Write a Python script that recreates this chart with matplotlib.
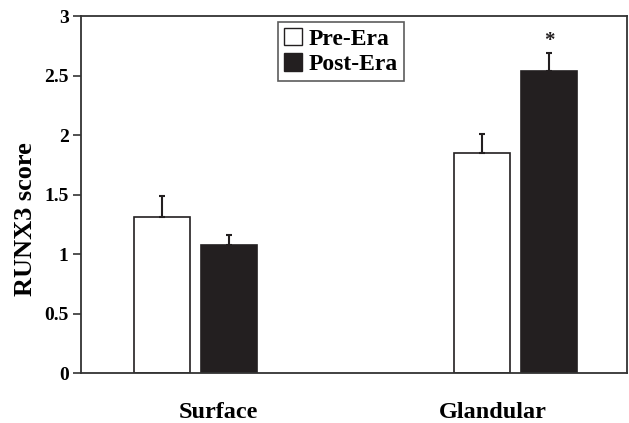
import numpy as np
import matplotlib
matplotlib.use("Agg")
import matplotlib.pyplot as plt
from matplotlib.patches import Patch

# data
groups = ["Surface", "Glandular"]
pre_era = [1.31, 1.85]
pre_err = [0.18, 0.16]
post_era = [1.08, 2.54]
post_err = [0.08, 0.15]
yticks = [0, 0.5, 1, 1.5, 2, 2.5, 3]
ytick_labels = ["0", "0.5", "1", "1.5", "2", "2.5", "3"]

plt.rcParams['font.family'] = ['Liberation Serif', 'DejaVu Serif']
plt.rcParams['font.weight'] = 'bold'

fig = plt.figure(figsize=(6.29, 4.23), dpi=100)
ax = fig.add_axes([0.1288, 0.118, 0.868, 0.844])

x = np.arange(len(groups))
w = 0.175
off = 0.105
edge = "#231f20"

ekw = dict(ecolor=edge, elinewidth=1.5, capsize=2.5, capthick=1.5)
ax.bar(x - off, pre_era, w, color="white", edgecolor=edge, linewidth=1.2,
       yerr=[np.zeros(2), pre_err], error_kw=ekw)
ax.bar(x + off, post_era, w, color=edge, edgecolor=edge, linewidth=1.2,
       yerr=[np.zeros(2), post_err], error_kw=ekw)

ax.text(x[1] + off, post_era[1] + post_err[1] + 0.02, "*", ha="center", va="bottom",
        fontsize=15, color=edge)

ax.set_xlim(-0.358, 1.348)
ax.set_ylim(0, 3)
ax.set_yticks(yticks)
ax.set_yticklabels(ytick_labels, fontsize=14, fontweight="bold")
# group labels sit slightly inward from the bar pairs in the original
ax.set_xticks(x + np.array([0.07, -0.07]))
ax.set_xticklabels(groups, fontsize=17.5, fontweight="bold")
ax.tick_params(axis="x", length=0, pad=21)
ax.tick_params(axis="y", direction="out", length=6, width=1.2, color="#333333", pad=3)
for s in ax.spines.values():
    s.set_color("#333333")
    s.set_linewidth(1.3)
ax.set_ylabel("RUNX3 score", fontsize=19, fontweight="bold")
ax.yaxis.set_label_coords(-0.08, 0.43)

handles = [Patch(facecolor="white", edgecolor=edge, linewidth=1.0, label="Pre-Era"),
           Patch(facecolor=edge, edgecolor=edge, label="Post-Era")]
leg = ax.legend(handles=handles, loc="upper left", bbox_to_anchor=(0.361, 0.983),
                fontsize=17, frameon=True, fancybox=False, edgecolor="#333333",
                handlelength=0.75, handleheight=0.75, handletextpad=0.3,
                borderpad=0.25, labelspacing=0.15, borderaxespad=0)
leg.get_frame().set_linewidth(1.2)
for t in leg.get_texts():
    t.set_fontweight("bold")

fig.savefig("out.png", dpi=100)
